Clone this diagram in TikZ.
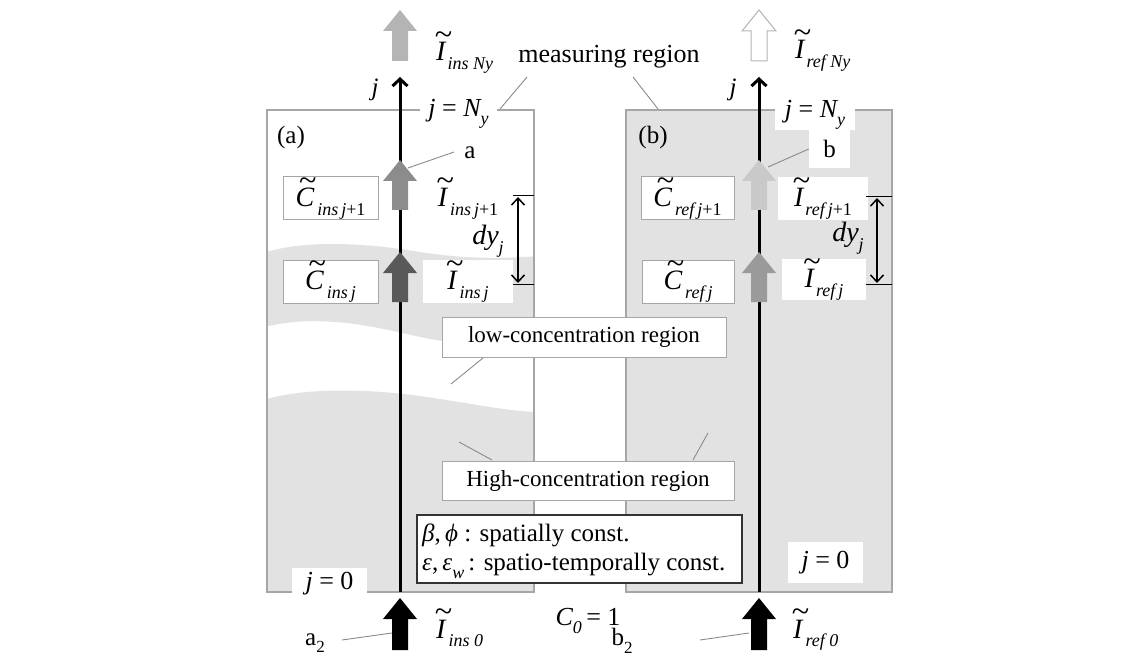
\documentclass[tikz,border=0pt]{standalone}
\usepackage{fontspec}
\setmainfont{Liberation Serif}
\usetikzlibrary{arrows.meta}
\definecolor{fillgray}{HTML}{E2E2E2}
\definecolor{framegray}{HTML}{A6A6A6}
\definecolor{leadgray}{HTML}{8A8A8A}
\definecolor{arrlight}{HTML}{B4B4B4}
\definecolor{arrmid}{HTML}{8C8C8C}
\definecolor{arrdark}{HTML}{595959}
\definecolor{arrpale}{HTML}{C9C9C9}
\definecolor{arrmidb}{HTML}{9A9A9A}
\newcommand{\fs}[1]{\fontsize{#1}{#1}\selectfont}
\newsavebox{\tlbox}
\newcommand{\tl}[1]{\sbox{\tlbox}{\itshape #1}\rlap{\hspace{0.1em}\makebox[\wd\tlbox][c]{\raisebox{0.58em}{\upshape\scalebox{1.15}[1.1]{\textasciitilde}}}}\usebox{\tlbox}}
\newcommand{\sbs}[1]{\raisebox{-0.32em}{\fs{18}\itshape #1}}
\newcommand{\fatarr}[4]{\path[#1] (#2-8,#4) -- (#2-8,#3+21) -- (#2-17,#3+21) -- (#2,#3) -- (#2+17,#3+21) -- (#2+8,#3+21) -- (#2+8,#4) -- cycle;}
\begin{document}
\begin{tikzpicture}[x=1pt,y=-1pt,
  frame/.style={draw=framegray, line width=1.3pt},
  cbox/.style={draw=framegray, fill=white, line width=1pt, minimum width=95pt, minimum height=43pt, inner sep=0pt, font=\fs{28}},
  ilab/.style={fill=white, inner sep=0pt, minimum width=90pt, minimum height=43pt, font=\fs{28}},
  lbl/.style={inner sep=1pt, font=\fs{25}},
  rbox/.style={draw=framegray, fill=white, line width=1pt, inner sep=0pt, font=\fs{23}},
  leader/.style={draw=leadgray, line width=0.9pt},
  axis/.style={line width=3pt, -{Straight Barb[length=7pt,width=15pt]}},
  dim/.style={line width=1.5pt, {Straight Barb[length=7pt,width=13pt]}-{Straight Barb[length=7pt,width=13pt]}},
  tick/.style={line width=1pt}]
\useasboundingbox (0,0) rectangle (1143,655);
% boxes
\draw[frame, fill=fillgray] (626,110) rectangle (892,592);
\fill[white] (267,110) rectangle (534,592);
\begin{scope}
\clip (267,110) rectangle (534,592);
\fill[fillgray] (260,254) .. controls (300,240) and (360,242) .. (420,252) .. controls (470,260) and (510,258) .. (540,256) -- (540,352) .. controls (500,348) and (460,345) .. (420,337) .. controls (380,328) and (320,312) .. (260,328) -- cycle;
\fill[fillgray] (260,401) .. controls (300,388) and (360,388) .. (420,396) .. controls (470,403) and (510,412) .. (540,412) -- (540,600) -- (260,600) -- cycle;
\end{scope}
\draw[frame] (267,110) rectangle (534,592);
% axes
\coordinate (aB) at (400,592); \coordinate (aT) at (400,77);
\coordinate (bB) at (759,592); \coordinate (bT) at (759,77);
\draw[axis] (aB) -- (aT);
\draw[axis] (bB) -- (bT);
% fat arrows
\fatarr{fill=arrlight}{400}{10}{61}
\fatarr{fill=arrmid}{400}{160}{210}
\fatarr{fill=arrdark}{400}{252}{302}
\fatarr{fill=black}{400}{598}{650}
\fatarr{fill=white,draw=arrlight,line width=1pt}{759}{10}{61}
\fatarr{fill=arrpale}{759}{160}{210}
\fatarr{fill=arrmidb}{759}{252}{302}
\fatarr{fill=black}{759}{598}{650}
% top labels
\node[anchor=base west, inner sep=0pt, font=\fs{28}] (INa) at (436,61) {\tl{I}\kern2pt\sbs{ins Ny}};
\node[anchor=base west, inner sep=0pt, font=\fs{28}] (INb) at (795,59) {\tl{I}\kern2pt\sbs{ref Ny}};
\node[lbl] (ja) at (375,90) {\itshape j};
\node[lbl] (jb) at (733,90) {\itshape j};
\node[fill=white, inner sep=0pt, minimum width=77pt, minimum height=28pt, font=\fs{26}] (jNa) at (458.5,114) {{\itshape j} = {\itshape N}\sbs{y}};
\node[fill=white, inner sep=0pt, minimum width=80pt, minimum height=28pt, font=\fs{26}] (jNb) at (815,115) {{\itshape j} = {\itshape N}\sbs{y}};
\node[inner sep=0pt, font=\fs{26}] (meas) at (609,57) {measuring region};
\coordinate (mL) at (500,109); \coordinate (mR) at (658,109);
\coordinate (mL2) at (527,77); \coordinate (mR2) at (633,77);
\draw[leader] (mL) -- (mL2);
\draw[leader] (mR) -- (mR2);
\node[lbl] (pa) at (291,137) {(a)};
\node[lbl] (pb) at (653,137) {(b)};
% a / b labels
\node[lbl] (la) at (470,153) {a};
\node[lbl, fill=white, minimum width=41pt, minimum height=38pt] (lb) at (829.5,149) {b};
\coordinate (arA) at (408,168); \coordinate (arB) at (768,167);
\coordinate (laP) at (454,152);
\draw[leader] (arA) -- (laP);
\draw[leader] (arB) -- (lb.west);
% C boxes
\node[cbox] (Ca1) at (330.5,198.5) {\tl{C}\kern3pt\sbs{ins\,j\upshape{+1}}};
\node[cbox] (Ca0) at (330.5,281.5) {\tl{C}\kern3pt\sbs{ins\,j}};
\node[cbox, minimum width=93pt] (Cb1) at (687.5,198.5) {\tl{C}\kern3pt\sbs{ref\,j\upshape{+1}}};
\node[cbox, minimum width=92pt] (Cb0) at (688,281.5) {\tl{C}\kern3pt\sbs{ref\,j}};
% I labels
\node[ilab] (Ia1) at (468,198.5) {\tl{I}\kern3pt\sbs{ins\,j\upshape{+1}}};
\node[ilab] (Ia0) at (468,281.5) {\tl{I}\kern3pt\sbs{ins\,j}};
\node[ilab] (Ib1) at (823,198.5) {\tl{I}\kern2pt\sbs{ref\,j\upshape{+1}}};
\node[ilab, minimum width=84pt, minimum height=39pt] (Ib0) at (824,279.5) {\tl{I}\kern2pt\sbs{ref\,j}};
% dy_j
\coordinate (dA1) at (513,196); \coordinate (dA2) at (534,196);
\coordinate (dA3) at (513,284); \coordinate (dA4) at (534,284);
\draw[tick] (dA1) -- (dA2); \draw[tick] (dA3) -- (dA4);
\coordinate (dA5) at (518,197); \coordinate (dA6) at (518,283);
\draw[dim] (dA5) -- (dA6);
\node[inner sep=0pt, font=\fs{28}] (dyA) at (488,241) {\itshape dy\sbs{j}};
\coordinate (dB1) at (866,197); \coordinate (dB2) at (892,197);
\coordinate (dB3) at (866,284); \coordinate (dB4) at (892,284);
\draw[tick] (dB1) -- (dB2); \draw[tick] (dB3) -- (dB4);
\coordinate (dB5) at (877,198); \coordinate (dB6) at (877,283);
\draw[dim] (dB5) -- (dB6);
\node[inner sep=0pt, font=\fs{28}] (dyB) at (848,238) {\itshape dy\sbs{j}};
% region labels
\node[rbox, minimum width=284pt, minimum height=40pt] (low) at (584,337) {low-concentration region};
\node[rbox, minimum width=292pt, minimum height=39pt] (high) at (588,480.5) {High-concentration region};
\coordinate (lowQ) at (483,358); \coordinate (lowP) at (451,384);
\draw[leader] (lowQ) -- (lowP);
\coordinate (hiP1) at (459,442); \coordinate (hiQ1) at (492,460);
\coordinate (hiP2) at (708,433); \coordinate (hiQ2) at (693,460);
\draw[leader] (hiP1) -- (hiQ1);
\draw[leader] (hiP2) -- (hiQ2);
% parameter box
\node[draw=black!80, fill=white, line width=1.2pt, minimum width=325pt, minimum height=68pt, inner sep=0pt] (par) at (579.5,549) {};
\node[anchor=base west, inner sep=0pt, font=\fs{25}] (par1) at (422,541) {{\itshape β},\,{\itshape ϕ} : spatially const.};
\node[anchor=base west, inner sep=0pt, font=\fs{25}] (par2) at (422,570) {{\itshape ε},\,{\itshape ε}\sbs{w}\,: spatio-temporally const.};
% j = 0
\node[fill=white, inner sep=0pt, minimum width=75pt, minimum height=32pt, font=\fs{26}] (j0a) at (329.5,584) {{\itshape j} = 0};
\node[fill=white, inner sep=0pt, minimum width=75pt, minimum height=41pt, font=\fs{26}] (j0b) at (825.5,562.5) {{\itshape j} = 0};
% bottom labels
\node[inner sep=0pt, font=\fs{26}] (C0) at (588,621) {{\itshape C}\sbs{0}\,= 1};
\node[anchor=base west, inner sep=0pt, font=\fs{28}] (I0a) at (436,638) {\tl{I}\kern3pt\sbs{ins 0}};
\node[anchor=base west, inner sep=0pt, font=\fs{28}] (I0b) at (793,638) {\tl{I}\kern3pt\sbs{ref 0}};
\node[lbl] (a2) at (315,643) {a\raisebox{-0.3em}{\fs{17}2}};
\node[lbl] (b2) at (622,641) {b\raisebox{-0.3em}{\fs{17}2}};
\coordinate (a2P) at (392,633); \coordinate (b2P) at (749,633);
\coordinate (a2Q) at (342,640); \coordinate (b2Q) at (700,640);
\draw[leader] (a2Q) -- (a2P);
\draw[leader] (b2Q) -- (b2P);
\end{tikzpicture}
\end{document}
